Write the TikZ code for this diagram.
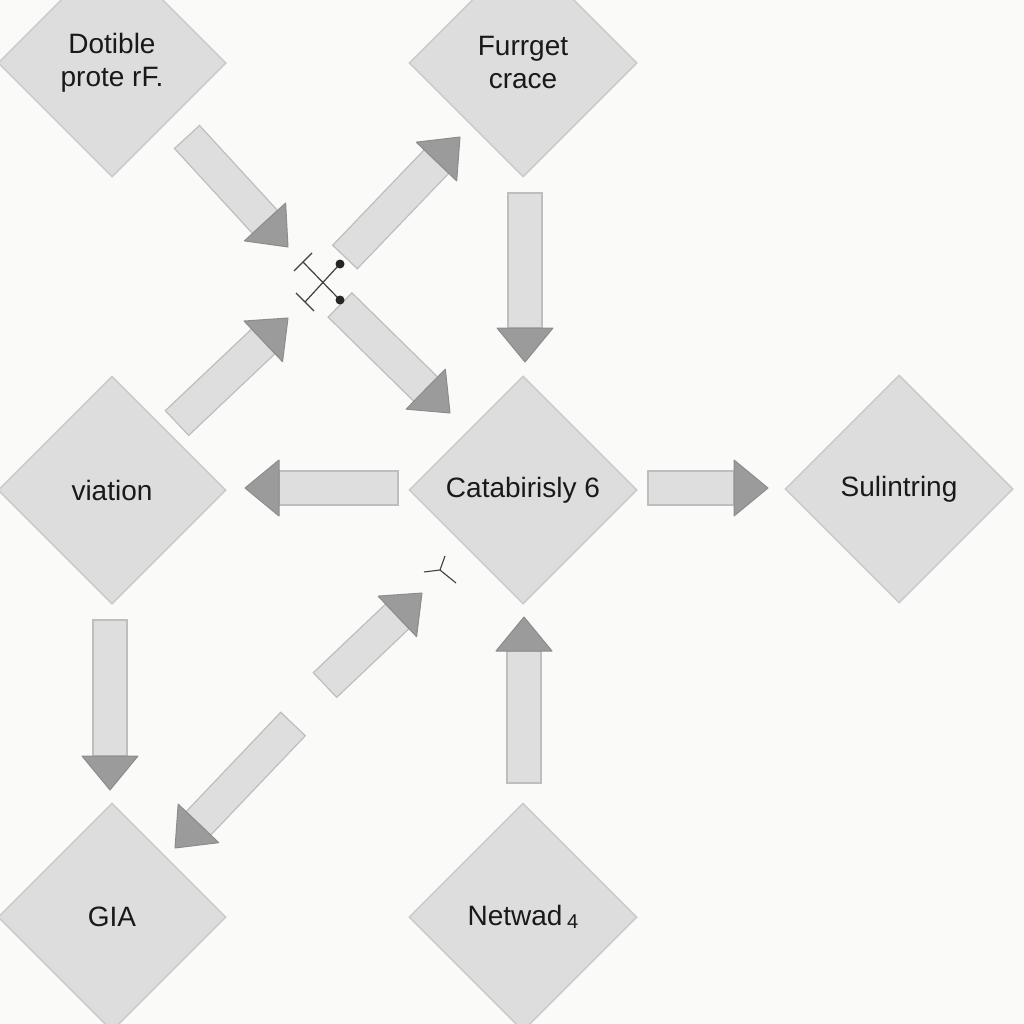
\documentclass[tikz,border=0pt]{standalone}
\usepackage{fontspec}
\setmainfont{Liberation Sans}
\usetikzlibrary{shapes.geometric,calc}
\definecolor{bgc}{RGB}{250,250,249}
\definecolor{dfill}{RGB}{221,221,221}
\definecolor{dline}{RGB}{203,203,203}
\definecolor{sfill}{RGB}{222,222,222}
\definecolor{sline}{RGB}{190,190,190}
\definecolor{hfill}{RGB}{155,155,155}
\definecolor{hline}{RGB}{140,140,140}
\tikzset{
  dia/.style={diamond, aspect=1, minimum width=228pt, minimum height=228pt, inner sep=0pt,
    fill=dfill, draw=dline, line width=1.5pt, align=center,
    font=\fontsize{28}{33}\selectfont, text=black!90},
  shaftst/.style={fill=sfill, draw=sline, line width=1.2pt, line join=miter},
  headst/.style={fill=hfill, draw=hline, line width=1pt, line join=round},
  symb/.style={draw=black!75, line width=1.2pt}
}
\newcommand{\blockarrow}[2]{%
  \coordinate (bb) at ($(#2)!34pt!(#1)$);
  \filldraw[shaftst] ($(#1)!17pt!90:(#2)$) -- ($(bb)!17pt!-90:(#1)$) -- ($(bb)!17pt!90:(#1)$) -- ($(#1)!17pt!-90:(#2)$) -- cycle;
  \filldraw[headst] ($(bb)!28pt!90:(#2)$) -- (#2) -- ($(bb)!28pt!-90:(#2)$) -- cycle;
}
\begin{document}
\begin{tikzpicture}[x=1pt,y=-1pt]
\useasboundingbox (0,0) rectangle (1024,1024);
\clip (0,0) rectangle (1024,1024);
\fill[bgc] (0,0) rectangle (1024,1024);

% diamonds
\node[dia] (dot) at (112,63) {Dotible\\prote rF.};
\node[dia] (fur) at (523,63) {Furrget\\crace};
\node[dia] (via) at (112,490) {viation};
\node[dia] (cat) at (523,490) {Catabirisly 6};
\node[dia] (sul) at (899,489) {Sulintring};
\node[dia] (gia) at (112,917) {GIA};
\node[dia] (net) at (523,917) {Netwad\,{\fontsize{20}{20}\selectfont\raisebox{-3pt}{4}}};

% arrow end points
\coordinate (aT) at (187,137);  \coordinate (aH) at (288,247);
\coordinate (bT) at (345,257);  \coordinate (bH) at (460,137);
\coordinate (cT) at (177,423);  \coordinate (cH) at (288,318);
\coordinate (dT) at (340,305);  \coordinate (dH) at (450,413);
\coordinate (eT) at (525,193);  \coordinate (eH) at (525,362);
\coordinate (fT) at (398,488);  \coordinate (fH) at (245,488);
\coordinate (gT) at (648,488);  \coordinate (gH) at (768,488);
\coordinate (hT) at (110,620);  \coordinate (hH) at (110,790);
\coordinate (iT) at (325,685);  \coordinate (iH) at (422,593);
\coordinate (jT) at (293,724);  \coordinate (jH) at (175,848);
\coordinate (kT) at (524,783);  \coordinate (kH) at (524,617);

\blockarrow{aT}{aH}
\blockarrow{bT}{bH}
\blockarrow{cT}{cH}
\blockarrow{dT}{dH}
\blockarrow{eT}{eH}
\blockarrow{fT}{fH}
\blockarrow{gT}{gH}
\blockarrow{hT}{hH}
\blockarrow{iT}{iH}
\blockarrow{jT}{jH}
\blockarrow{kT}{kH}

% small cross symbol
\coordinate (xc) at (322,282);
\coordinate (x1) at (303,262); \coordinate (x2) at (305,302);
\coordinate (x3) at (338,266); \coordinate (x4) at (338,298);
\draw[symb] (x1) -- (x4);
\draw[symb] (x2) -- (x3);
\draw[symb] (294,271) -- (312,253);
\draw[symb] (296,293) -- (314,311);
\fill[black!85] (x3) ++(2,-2) circle (4.5);
\fill[black!85] (x4) ++(2,2) circle (4.5);

% small Y symbol
\coordinate (yc) at (440,570);
\draw[symb, line width=1.1pt] (yc) -- (424,572);
\draw[symb, line width=1.1pt] (yc) -- (445,556);
\draw[symb, line width=1.1pt] (yc) -- (456,583);
\end{tikzpicture}
\end{document}
